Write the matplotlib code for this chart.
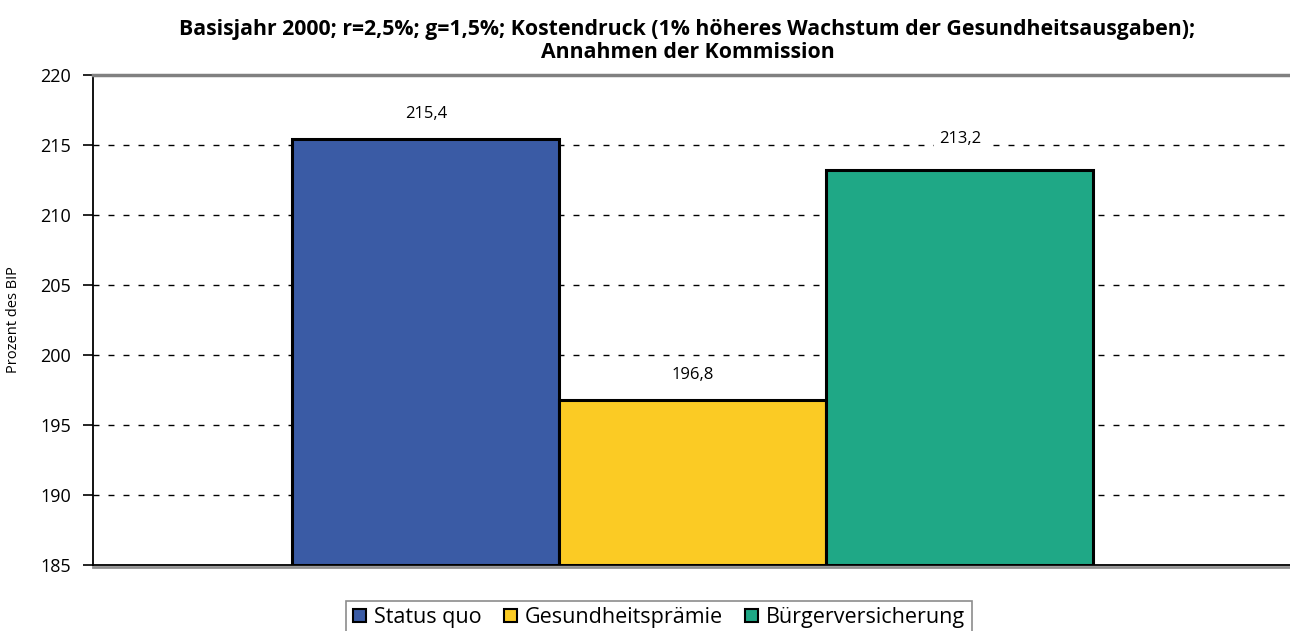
import matplotlib.pyplot as plt
from matplotlib.patches import Patch

plt.rcParams['font.family'] = ['Open Sans', 'DejaVu Sans']

series = ["Status quo", "Gesundheitsprämie", "Bürgerversicherung"]
values = [215.4, 196.8, 213.2]
labels = ["215,4", "196,8", "213,2"]
colors = ["#3a5ba5", "#fbcb24", "#1fa886"]
yticks = [185, 190, 195, 200, 205, 210, 215, 220]

fig = plt.figure(figsize=(12.9, 6.31), dpi=100)
ax = fig.add_axes([93 / 1290, 1 - 565 / 631, 1 - 93 / 1290 + 0.002, (565 - 75) / 631])

w = 0.2225
offs = [-w, 0, w]
label_dy = [1.8, 1.8, 2.2]
for o, v, c, lab, dy in zip(offs, values, colors, labels, label_dy):
    ax.bar(o, v - 185, bottom=185, width=w, color=c, edgecolor="black",
           linewidth=2.2, zorder=3)
    ax.text(o, v + dy, lab, ha="center", va="center", fontsize=12, zorder=4,
            bbox=dict(facecolor="white", edgecolor="none", pad=3))

ax.set_xlim(-0.5, 0.5)
ax.set_ylim(185, 220)
ax.set_yticks(yticks)
ax.set_xticks([])
ax.tick_params(axis="y", labelsize=13, length=7, width=1.2, direction="out", pad=9)
for y in yticks[1:-1]:
    ax.axhline(y, color="black", linestyle=(0, (4.3, 6.5)), linewidth=1, zorder=1)

ax.spines["left"].set_color("black")
ax.spines["left"].set_linewidth(1.3)
ax.spines["bottom"].set_color("black")
ax.spines["bottom"].set_linewidth(1.3)
ax.spines["top"].set_color("#808080")
ax.spines["top"].set_linewidth(2.5)
ax.spines["right"].set_color("#808080")
ax.spines["right"].set_linewidth(2.5)
# grey shadow under the bottom frame line
ax.plot([0, 1], [-0.005, -0.005], transform=ax.transAxes, color="#909090",
        linewidth=2, clip_on=False, zorder=0)

ax.set_ylabel("Prozent des BIP", fontsize=10.5, labelpad=14)

fig.text(0.533, 0.935, "Basisjahr 2000; r=2,5%; g=1,5%; Kostendruck (1% höheres Wachstum der Gesundheitsausgaben);\nAnnahmen der Kommission",
         ha="center", va="center", fontsize=15.3, fontweight="bold", linespacing=1.1)

handles = [Patch(facecolor=c, edgecolor="black", linewidth=1.5) for c in colors]
leg = fig.legend(handles, series, loc="upper center", bbox_to_anchor=(0.511, 0.065),
                 ncol=3, fontsize=15.5, frameon=True, fancybox=False,
                 handlelength=0.6, handleheight=0.6, handletextpad=0.4,
                 columnspacing=1.0, borderpad=0.3)
leg.get_frame().set_edgecolor("#707070")
leg.get_frame().set_linewidth(1.2)

fig.savefig("out.png", dpi=100)
